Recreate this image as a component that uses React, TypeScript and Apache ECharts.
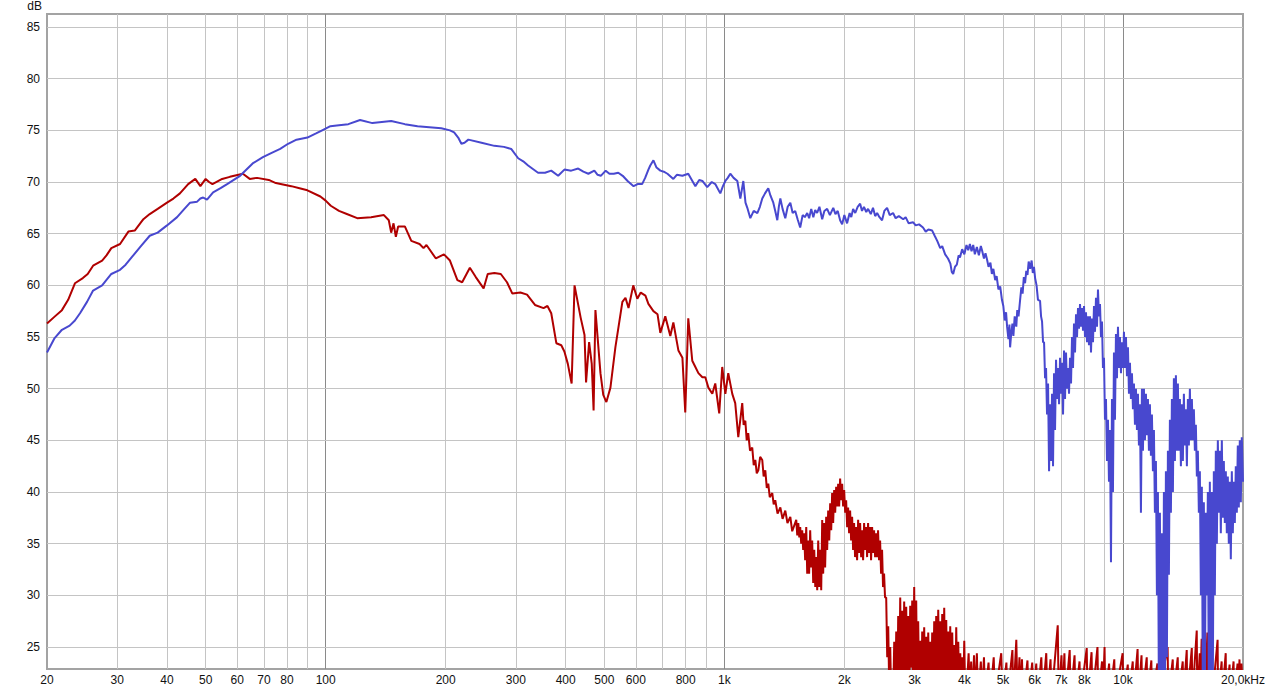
import React, { useEffect, useRef } from "react";
import * as echarts from "echarts";

const X_MIN = 20;
const X_MAX = 20000;
const Y_MIN = 22.87;
const Y_MAX = 86.26;

const xGridMinor = [30, 40, 50, 60, 70, 80, 90, 200, 300, 400, 500, 600, 700, 800, 900, 2000, 3000, 4000, 5000, 6000, 7000, 8000, 9000];
const xGridMajor = [100, 1000, 10000];
const xTickLabels = [20, 30, 40, 50, 60, 70, 80, 100, 200, 300, 400, 500, 600, 800, 1000, 2000, 3000, 4000, 5000, 6000, 7000, 8000, 10000, 20000];
const yTicks = [25, 30, 35, 40, 45, 50, 55, 60, 65, 70, 75, 80, 85];

const blueLow: [number, number][] = [
  [20, 53.5], [20.9, 54.9], [21.8, 55.7], [22.8, 56.1], [23.5, 56.6], [24.2, 57.3], [25.2, 58.4], [26.1, 59.5], [27.5, 60.0], [28.3, 60.6],
  [29, 61.1], [30.5, 61.5], [31.5, 62.0], [32.6, 62.7], [34.4, 63.8], [36.2, 64.8], [37.9, 65.1], [40, 65.8], [42.4, 66.6], [44, 67.3],
  [45.7, 68.0], [47.6, 68.1], [48.5, 68.4], [49.3, 68.5], [50.4, 68.3], [52.2, 69.0], [54.5, 69.4], [56.6, 69.8], [61, 70.6], [65.6, 71.8],
  [69.6, 72.4], [73, 72.8], [76.9, 73.2], [80.5, 73.7], [84.5, 74.1], [90, 74.3], [94.6, 74.7], [98, 75.0], [102.8, 75.4], [108, 75.5],
];

const blueMid: [number, number][] = [
  [114, 75.6], [122, 76.0], [131, 75.7], [146, 75.9], [158, 75.6], [170, 75.4], [182, 75.3], [195, 75.2], [205, 75.0], [210, 74.8],
  [215, 74.3], [219, 73.7], [223, 73.8], [228, 74.1], [246, 73.8], [265, 73.5], [280, 73.4], [292, 73.2], [304, 72.3], [313, 72.0],
  [322, 71.6], [341, 70.9], [355, 70.9], [368, 71.1], [383, 70.6], [397, 71.2], [413, 71.1], [430, 71.3], [443, 71.0], [456, 70.8],
  [472, 71.1], [481, 70.7], [490, 70.6], [504, 71.1], [515, 70.8], [528, 70.8], [542, 70.9], [556, 70.6], [572, 70.1], [592, 69.6],
  [606, 69.8], [622, 69.8], [633, 70.4], [645, 71.2], [652, 71.6], [664, 72.1], [676, 71.4], [691, 71.1], [705, 71.0], [720, 70.8],
  [745, 70.3], [760, 70.7], [785, 70.6], [812, 70.8], [826, 70.3], [846, 69.6], [865, 70.2], [881, 70.1], [906, 69.5], [930, 70.0],
  [949, 69.8], [977, 68.9], [992, 69.6], [1006, 70.1], [1020, 70.4], [1035, 70.8], [1055, 70.4], [1078, 70.1], [1097, 68.4], [1116, 70.1],
  [1130, 68.0], [1142, 67.5], [1162, 66.5], [1185, 67.2], [1210, 67.0], [1228, 67.6], [1245, 68.4], [1265, 68.9], [1289, 69.4], [1305, 68.7],
  [1327, 68.0], [1342, 67.2], [1358, 66.3], [1370, 67.6], [1382, 68.4], [1400, 67.4], [1422, 66.5], [1442, 67.6], [1464, 68.0], [1484, 67.0],
  [1506, 67.2], [1527, 66.4], [1550, 65.6], [1572, 66.8], [1592, 66.6], [1614, 67.0], [1632, 66.5], [1652, 67.4], [1672, 66.6], [1690, 67.3],
  [1709, 67.0], [1732, 67.6], [1760, 66.4], [1782, 67.2], [1811, 67.4], [1840, 66.8], [1876, 67.5], [1900, 66.9], [1925, 67.2], [1952, 66.3],
  [1975, 65.9], [2000, 66.8], [2032, 66.0], [2062, 67.0], [2082, 66.6], [2104, 67.4], [2130, 67.0], [2160, 67.6], [2191, 67.9], [2215, 67.2],
  [2240, 67.6], [2270, 67.1], [2294, 67.4], [2330, 66.9], [2360, 67.5], [2390, 66.7], [2417, 67.0], [2450, 66.6], [2487, 66.3], [2520, 67.2],
  [2560, 67.5], [2600, 66.8], [2650, 67.0], [2690, 66.5], [2740, 66.7], [2810, 66.4], [2850, 66.6], [2900, 66.0], [2977, 66.1], [3020, 65.8],
  [3080, 65.9], [3150, 65.6], [3200, 65.2], [3250, 65.4], [3322, 65.3], [3370, 64.8],
];

const blueHigh: [number, number][] = [
  [3420, 64.3], [3480, 63.6], [3520, 63.8], [3580, 63.0], [3640, 62.6], [3690, 62.1], [3720, 61.3], [3750, 61.1], [3790, 61.8], [3830, 62.0],
  [3870, 62.9], [3900, 62.7], [3950, 63.5], [4000, 63.0], [4050, 63.9], [4090, 63.4], [4130, 64.0], [4170, 63.3], [4210, 63.9], [4250, 63.0],
  [4300, 63.7], [4350, 62.9], [4400, 63.8], [4430, 63.4], [4480, 62.6], [4520, 63.1], [4560, 62.5], [4600, 61.8], [4650, 62.2], [4690, 61.1],
  [4730, 61.6], [4780, 60.5], [4820, 60.9], [4870, 59.6], [4920, 59.9], [4970, 58.6], [5010, 58.0], [5050, 56.6], [5090, 57.4], [5120, 56.0],
  [5160, 54.8], [5190, 56.2], [5210, 54.0], [5240, 55.2], [5280, 56.3], [5310, 55.1], [5350, 57.0], [5400, 56.0], [5430, 57.6], [5470, 57.0],
  [5520, 58.6], [5560, 59.8], [5600, 59.2], [5640, 60.8], [5680, 60.2], [5720, 61.4], [5760, 61.0], [5800, 62.3], [5850, 61.6], [5900, 62.4],
  [5940, 61.2], [5980, 61.8], [6020, 60.7], [6070, 60.0], [6120, 58.6],
];

const blueDense: [number, number][] = [
  [6194, 58.5], [6230, 57.0], [6266, 56.5], [6302, 54.5], [6339, 54.5], [6376, 51.0], [6412, 52.0], [6449, 47.5], [6487, 50.5], [6525, 42.0],
  [6562, 48.5], [6600, 43.0], [6638, 49.5], [6676, 42.5], [6715, 51.5], [6754, 46.0], [6793, 52.8], [6832, 49.0], [6872, 52.0], [6912, 48.5],
  [6952, 53.0], [6992, 49.5], [7032, 52.5], [7073, 47.5], [7114, 53.7], [7155, 49.0], [7196, 53.5], [7238, 50.0], [7280, 52.0], [7322, 49.5],
  [7364, 53.0], [7407, 50.5], [7450, 55.0], [7493, 52.0], [7536, 56.3], [7580, 53.5], [7624, 57.2], [7668, 55.0], [7712, 57.8], [7757, 55.8],
  [7802, 58.2], [7847, 56.0], [7892, 57.8], [7938, 55.6], [7984, 58.0], [8030, 55.0], [8076, 57.4], [8123, 54.5], [8170, 57.0], [8217, 54.2],
  [8265, 57.0], [8313, 53.5], [8361, 56.8], [8409, 54.5], [8458, 58.0], [8507, 55.5], [8556, 58.8], [8606, 56.0], [8655, 59.6], [8705, 57.0],
  [8756, 58.2], [8807, 55.0], [8857, 56.5], [8908, 52.0], [8960, 53.0], [9012, 47.0], [9064, 49.0], [9117, 43.0], [9169, 47.0], [9222, 41.0],
  [9276, 46.0], [9330, 33.2], [9383, 49.0], [9437, 40.0], [9492, 53.5], [9547, 47.0], [9602, 55.3], [9658, 51.0], [9714, 56.0], [9770, 52.0],
  [9827, 55.0], [9884, 51.5], [9941, 54.5], [9999, 52.0], [10056, 55.5], [10114, 52.0], [10173, 55.0], [10232, 51.2], [10291, 54.0], [10351, 49.5],
  [10410, 52.5], [10470, 49.0], [10531, 51.5], [10592, 48.0], [10653, 50.5], [10715, 46.5], [10777, 50.0], [10840, 46.0], [10902, 49.5], [10965, 44.5],
  [11028, 48.5], [11092, 38.0], [11156, 50.0], [11221, 44.0], [11286, 50.0], [11351, 45.0], [11417, 49.5], [11483, 45.5], [11549, 49.0], [11616, 44.0],
  [11683, 48.5], [11751, 43.5], [11819, 47.5], [11888, 42.0], [11956, 46.0], [12025, 38.0], [12095, 43.0], [12165, 30.0], [12235, 40.0], [12306, 20.0],
  [12377, 38.0], [12449, 20.0], [12521, 36.0], [12594, 20.0], [12666, 40.0], [12739, 20.0], [12813, 42.0], [12887, 24.0], [12962, 44.0], [13037, 32.0],
  [13112, 47.0], [13188, 38.0], [13264, 49.0], [13341, 40.0], [13418, 51.0], [13496, 43.0], [13574, 51.3], [13653, 44.0], [13731, 50.5], [13811, 44.0],
  [13891, 49.0], [13972, 42.5], [14052, 48.5], [14133, 43.0], [14215, 49.5], [14297, 44.5], [14380, 48.0], [14463, 42.5], [14547, 49.0], [14631, 44.5],
  [14716, 50.0], [14801, 45.0], [14886, 49.0], [14972, 45.0], [15059, 48.0], [15146, 44.0], [15234, 46.5], [15322, 41.5], [15410, 44.0], [15499, 38.0],
  [15589, 42.0], [15679, 30.0], [15770, 40.5], [15861, 20.0], [15953, 39.0], [16046, 20.0], [16138, 38.0], [16232, 30.0], [16325, 40.0], [16420, 20.0],
  [16515, 41.0], [16611, 20.0], [16706, 40.0], [16803, 22.0], [16900, 42.0], [16998, 30.0], [17096, 44.0], [17195, 35.0], [17295, 45.0], [17395, 38.0],
  [17495, 44.0], [17596, 36.0], [17698, 45.0], [17801, 37.5], [17904, 43.0], [18008, 37.0], [18111, 42.0], [18216, 36.0], [18321, 41.5], [18427, 35.0],
  [18534, 41.0], [18641, 33.5], [18749, 42.0], [18858, 36.0], [18967, 41.0], [19077, 37.0], [19187, 42.5], [19298, 38.0], [19409, 44.5], [19522, 38.5],
  [19634, 45.0], [19748, 39.0], [19862, 45.3], [20000, 41.0],
];

const redLow: [number, number][] = [
  [20, 56.3], [20.8, 56.9], [21.8, 57.6], [22.6, 58.6], [23.5, 60.2], [24.6, 60.7], [25.3, 61.1], [26.1, 61.9], [27.5, 62.4], [28.2, 62.9],
  [29, 63.6], [30.5, 64.0], [32, 65.2], [33.2, 65.3], [34.9, 66.4], [36.2, 66.9], [37.9, 67.4], [40, 68.0], [41.5, 68.4], [43.1, 68.9],
  [45.2, 69.8], [47.1, 70.3], [48.5, 69.6], [50, 70.3], [51, 70.0], [52, 69.8], [55, 70.3], [57.5, 70.5], [62, 70.8], [64.5, 70.3],
  [67.3, 70.4], [72, 70.2], [75, 69.9], [82, 69.6], [86, 69.4], [90, 69.2], [97, 68.6], [100, 68.2], [103, 67.7], [108, 67.2],
];

const redMid: [number, number][] = [
  [113, 66.9], [120, 66.5], [130, 66.6], [140, 66.8], [144, 66.3], [146, 65.1], [148, 66.0], [150, 64.7], [152, 65.7], [158, 65.7],
  [164, 64.3], [172, 64.0], [176, 63.6], [179, 63.9], [189, 62.6], [198, 63.0], [205, 62.4], [214, 60.5], [220, 60.3], [230, 61.7],
  [238, 60.8], [249, 59.7], [255, 61.1], [265, 61.2], [275, 61.1], [285, 60.3], [294, 59.2], [308, 59.3], [320, 59.1], [335, 58.1],
  [352, 57.8], [360, 58.0], [368, 57.3], [379, 54.4], [390, 54.2], [397, 53.6], [405, 52.4], [414, 50.5], [421, 60.0], [436, 56.9],
  [446, 55.2], [450, 50.6], [458, 54.5], [465, 52.4], [470, 47.9], [475, 57.6], [489, 51.5], [497, 49.4], [506, 48.7], [518, 50.1],
  [533, 54.0], [555, 58.4], [565, 58.8], [575, 57.8], [591, 60.0], [605, 58.7], [617, 59.3], [634, 59.0], [645, 58.2], [664, 57.5],
  [680, 57.2], [691, 55.4], [711, 57.0], [732, 55.1], [745, 56.4], [767, 53.7], [785, 53.0], [798, 47.7], [812, 56.8], [831, 52.7],
  [846, 52.1], [861, 51.5], [881, 51.1], [896, 51.1], [912, 50.1], [933, 49.5], [949, 50.5], [971, 47.6], [988, 52.1], [1006, 49.5],
  [1023, 51.5], [1047, 49.5], [1065, 48.6], [1084, 45.3],
];

const redFall: [number, number][] = [
  [1109, 48.6], [1118, 46.5], [1129, 46.9], [1138, 45.0], [1148, 45.7], [1160, 44.0], [1175, 44.3], [1185, 42.6], [1196, 43.1], [1206, 41.8],
  [1217, 42.1], [1230, 43.4], [1245, 43.1], [1255, 41.5], [1267, 42.1], [1278, 40.4], [1289, 40.8], [1300, 39.5], [1319, 39.9], [1330, 38.8],
  [1342, 39.2], [1360, 37.9], [1382, 38.5], [1400, 37.4], [1422, 38.2], [1440, 37.0], [1464, 37.6], [1480, 36.2],
];

const redDense: [number, number][] = [
  [1515, 37.3], [1524, 35.8], [1533, 37.0], [1542, 35.6], [1550, 36.6], [1559, 35.0], [1568, 36.3], [1577, 34.4], [1586, 36.0], [1595, 33.4],
  [1605, 36.6], [1614, 32.1], [1623, 35.3], [1632, 32.1], [1642, 36.3], [1652, 32.7], [1661, 35.3], [1671, 31.2], [1681, 34.4], [1691, 30.8],
  [1700, 33.7], [1710, 30.5], [1720, 35.3], [1730, 30.8], [1740, 34.4], [1750, 30.5], [1760, 37.3], [1770, 32.1], [1780, 37.0], [1790, 32.7],
  [1801, 37.6], [1811, 34.4], [1822, 38.2], [1833, 35.3], [1843, 38.9], [1854, 36.3], [1864, 39.9], [1875, 37.0], [1886, 40.2], [1897, 38.0],
  [1908, 40.5], [1919, 38.6], [1930, 40.8], [1941, 38.6], [1952, 41.3], [1963, 39.2], [1975, 40.8], [1986, 38.6], [1998, 40.2], [2010, 38.0],
  [2021, 39.2], [2033, 36.6], [2044, 38.5], [2056, 36.0], [2068, 38.2], [2080, 35.3], [2092, 37.6], [2104, 34.4], [2116, 37.0], [2128, 33.7],
  [2141, 36.6], [2153, 33.4], [2166, 37.3], [2179, 34.1], [2191, 37.0], [2204, 33.7], [2216, 36.3], [2229, 33.4], [2242, 37.0], [2255, 34.4],
  [2268, 36.6], [2281, 33.7], [2294, 37.0], [2307, 34.1], [2321, 36.6], [2334, 33.4], [2348, 36.6], [2362, 34.1], [2375, 36.3], [2389, 33.7],
  [2403, 36.0], [2417, 33.7], [2430, 36.3], [2444, 33.4], [2459, 35.3], [2473, 32.1], [2487, 34.4], [2501, 30.8], [2516, 32.1], [2530, 29.8],
];

const redNoise: [number, number][] = [
  [2547, 29.8], [2562, 24], [2577, 27.0], [2592, 21], [2607, 25.0], [2622, 20], [2637, 21.5], [2652, 20], [2668, 25.5], [2683, 20],
  [2699, 26.5], [2715, 20], [2730, 28.0], [2746, 21], [2762, 29.8], [2778, 20], [2794, 28.5], [2810, 22], [2826, 29.4], [2842, 20],
  [2859, 28.9], [2876, 21], [2892, 28.0], [2909, 20], [2926, 29.0], [2943, 23], [2960, 29.5], [2977, 20], [2994, 30.8], [3011, 21],
  [3029, 29.5], [3047, 20], [3064, 27.5], [3082, 20], [3100, 25.6], [3118, 20], [3136, 26.5], [3154, 21], [3172, 26.9], [3190, 20],
  [3209, 26.0], [3228, 20], [3247, 26.4], [3266, 21], [3284, 25.5], [3303, 20], [3322, 26.4], [3341, 20], [3361, 27.5], [3380, 21],
  [3400, 28.0], [3420, 20], [3440, 28.6], [3460, 22], [3480, 27.5], [3500, 20], [3520, 28.2], [3540, 21], [3561, 28.8], [3582, 20],
  [3603, 27.6], [3624, 20], [3645, 26.5], [3666, 21], [3687, 27.0], [3708, 20], [3730, 26.4], [3752, 20], [3773, 25.2], [3795, 20],
  [3817, 26.9], [3839, 21], [3862, 25.5], [3884, 20], [3907, 24.4], [3930, 20], [3952, 24.0], [3975, 20], [3998, 25.6], [4021, 20],
];

const redFloor: [number, number][] = [
  [4045, 20], [4100, 24.4], [4130, 20], [4160, 23.6], [4190, 20], [4230, 24.2], [4260, 20], [4300, 24.4], [4330, 20], [4400, 23.6],
  [4430, 20], [4480, 24.0], [4510, 20], [4600, 23.5], [4640, 20], [4740, 24.0], [4770, 20], [4950, 24.4], [4990, 20], [5100, 23.5],
  [5130, 20], [5280, 24.7], [5310, 20], [5400, 25.7], [5440, 20], [5500, 24.0], [5530, 20], [5580, 23.8], [5620, 20], [5760, 23.7],
  [5790, 20], [5920, 23.5], [5960, 20], [6060, 23.4], [6100, 20], [6240, 24.0], [6280, 20], [6420, 24.4], [6460, 20], [6580, 23.8],
  [6620, 20], [6860, 27.1], [6900, 20], [7010, 24.2], [7050, 20], [7130, 24.4], [7170, 20], [7350, 24.7], [7390, 20], [7560, 24.2],
  [7600, 20], [7780, 23.6], [7820, 20], [8110, 24.9], [8150, 20], [8340, 24.5], [8380, 20], [8630, 25.0], [8670, 20], [8860, 23.6],
  [8900, 20], [8990, 25.0], [9030, 20], [9230, 23.4], [9270, 20], [9510, 23.8], [9550, 20], [9980, 24.4], [10020, 20], [10280, 23.3],
  [10320, 20], [10580, 23.6], [10620, 20], [10880, 24.8], [10930, 20], [11130, 24.2], [11170, 20], [11470, 24.0], [11510, 20], [11780, 23.7],
  [11820, 20], [12200, 23.4], [12250, 20], [12940, 25.0], [12990, 20], [13330, 23.8], [13370, 20], [13720, 24.0], [13770, 20], [14120, 23.6],
  [14170, 20], [14450, 24.7], [14500, 20], [14880, 24.9], [14930, 20], [15310, 26.6], [15360, 20], [15580, 24.4], [15620, 20], [15750, 25.8],
  [15800, 20], [16030, 23.8], [16080, 20], [16280, 26.4], [16330, 20], [16700, 24.6], [16750, 20], [17270, 25.7], [17320, 20], [17680, 23.6],
  [17730, 20], [18100, 24.4], [18150, 20], [18510, 23.3], [18560, 20], [18940, 23.6], [18990, 20], [19380, 23.4], [19430, 20], [19600, 23.8],
  [19650, 20], [19820, 23.4], [20000, 21],
];

const redCurve = [...redLow, ...redMid, ...redFall, ...redDense, ...redNoise, ...redFloor];
const blueCurve = [...blueLow, ...blueMid, ...blueHigh, ...blueDense];

const FONT = "'Liberation Sans', Arial, sans-serif";

function fmtFreq(v: number): string {
  if (v === 20000) return "20,0kHz";
  if (v >= 1000) return v / 1000 + "k";
  return String(v);
}

export default function App() {
  const ref = useRef<HTMLDivElement>(null);
  useEffect(() => {
    if (!ref.current) return;
    const chart = echarts.init(ref.current, null, { renderer: "svg" });
    const labelSet = new Set(xTickLabels);
    const allX = Array.from(new Set([...xTickLabels, ...xGridMinor, ...xGridMajor])).sort((a, b) => a - b);
    const vLines = allX.map((v) => ({
      xAxis: v,
      name: labelSet.has(v) ? fmtFreq(v) : "",
      lineStyle: {
        color: xGridMajor.includes(v) ? "#8a8a8a" : v === X_MIN || v === X_MAX ? "rgba(0,0,0,0)" : "#c4c4c4",
        width: 1,
        type: "solid",
      },
      label: {
        show: labelSet.has(v),
        position: "start",
        formatter: fmtFreq(v),
        distance: 5,
        color: "#111",
        fontSize: 12,
        fontFamily: FONT,
      },
    }));
    const hLines = yTicks.map((v) => ({
      yAxis: v,
      lineStyle: { color: "#c4c4c4", width: 1, type: "solid" },
      label: { show: false },
    }));
    chart.setOption({
      animation: false,
      backgroundColor: "#ffffff",
      textStyle: { fontFamily: FONT },
      grid: {
        left: 47,
        right: 22,
        top: 13,
        bottom: 21,
        show: true,
        borderColor: "#a3a3a3",
        borderWidth: 2,
        backgroundColor: "#ffffff",
      },
      xAxis: {
        type: "log",
        logBase: 10,
        min: X_MIN,
        max: X_MAX,
        axisLine: { show: false },
        axisTick: { show: false },
        axisLabel: { show: false },
        splitLine: { show: false },
      },
      yAxis: {
        type: "value",
        min: Y_MIN,
        max: Y_MAX,
        name: "dB",
        nameLocation: "end",
        nameGap: 2,
        nameTextStyle: { color: "#111", fontSize: 12, fontFamily: FONT, align: "right", verticalAlign: "bottom", padding: [0, 5, 0, 0] },
        axisLine: { show: false },
        axisTick: { show: false },
        splitLine: { show: false },
        axisLabel: { customValues: yTicks, color: "#111", fontSize: 12, fontFamily: FONT, margin: 7 },
      },
      series: [
        {
          type: "line",
          name: "grid",
          data: [],
          silent: true,
          z: 1,
          markLine: {
            silent: true,
            symbol: "none",
            z: 1,
            animation: false,
            data: [...vLines, ...hLines],
          },
        },
        {
          type: "line",
          name: "red",
          data: redCurve,
          showSymbol: false,
          symbol: "none",
          z: 3,
          clip: true,
          lineStyle: { color: "#b00000", width: 2 },
          itemStyle: { color: "#b00000" },
        },
        {
          type: "line",
          name: "blue",
          data: blueCurve,
          showSymbol: false,
          symbol: "none",
          z: 4,
          clip: true,
          lineStyle: { color: "#4848cf", width: 2 },
          itemStyle: { color: "#4848cf" },
        },
      ],
    });
    return () => chart.dispose();
  }, []);
  return <div ref={ref} style={{ position: "fixed", left: 0, top: 0, width: 1265, height: 690, background: "#fff" }} />;
}
